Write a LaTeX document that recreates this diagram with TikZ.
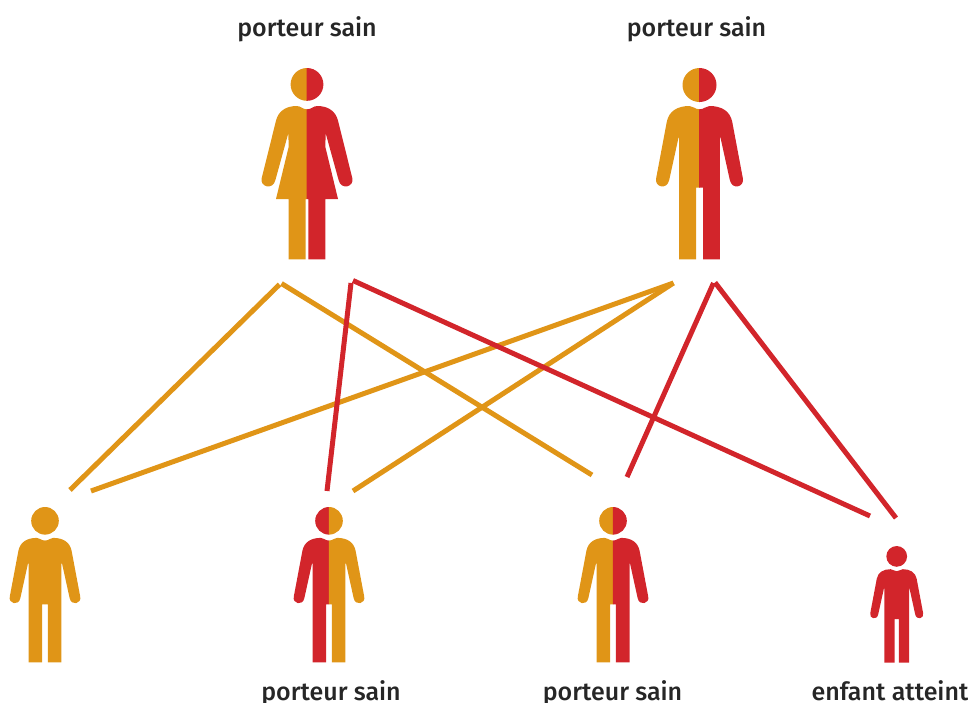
\documentclass[tikz,border=0pt]{standalone}
\usepackage{fontspec}
\setmainfont{Fira Sans Medium}
\definecolor{ocre}{HTML}{E09517}
\definecolor{rouge}{HTML}{D2252B}
\tikzset{
  lien/.style={line width=5pt},
  lienO/.style={lien,draw=ocre},
  lienR/.style={lien,draw=rouge},
  etiquette/.style={font=\fontsize{25}{28}\selectfont,text=black!85,inner sep=0pt,anchor=base},
}
% half figures, drawn to the left of the axis; origin = centre at head top, height 192
\newcommand{\demiHomme}[1]{%
  \fill[#1] (0.3,34) -- (0,34) arc[start angle=90,end angle=270,radius=17] -- (0.3,0) -- cycle;
  \fill[#1] (0.3,41.3) -- (0,41.3) .. controls (-5,41.3) and (-6,38) .. (-10,38)
    .. controls (-22,38) and (-30.5,43) .. (-32.7,53.7)
    -- (-43.3,110) .. controls (-45.5,119) and (-32.5,122.5) .. (-30.3,112)
    -- (-21,69.7) -- (-20.3,69.7) -- (-20.3,191.3) -- (-3.5,191.3) -- (-3.5,119.7) -- (0.3,119.7) -- cycle;}
\newcommand{\demiFemme}[1]{%
  \fill[#1] (0.3,32.8) -- (0,32.8) arc[start angle=90,end angle=270,radius=16.4] -- (0.3,0) -- cycle;
  \fill[#1] (0.3,41.3) -- (0,41.3) .. controls (-5,41.3) and (-6,38) .. (-10.3,38)
    .. controls (-22,38) and (-29,44) .. (-31,52.7)
    -- (-45.3,110) .. controls (-47.5,119) and (-34,122.5) .. (-31.6,112)
    -- (-18.7,65.3) -- (-18.3,78.7) -- (-31,131) -- (-18.3,131) -- (-18.3,191.3) -- (-1.3,191.3) -- (-1.3,131) -- (0.3,131) -- cycle;}
% #1 x, #2 top y, #3 scale, #4 left colour, #5 right colour, #6 macro
\newcommand{\personne}[6]{%
  \begin{scope}[shift={(#1,#2)},scale=#3]
    #6{#4}
    \begin{scope}[xscale=-1]#6{#5}\end{scope}
  \end{scope}}
\begin{document}
\begin{tikzpicture}[x=1pt,y=-1pt]
\useasboundingbox (0,0) rectangle (968,702);
\personne{307}{68}{1}{ocre}{rouge}{\demiFemme}
\personne{699.5}{68}{1}{ocre}{rouge}{\demiHomme}
\personne{45}{507}{0.8125}{ocre}{ocre}{\demiHomme}
\personne{329}{507}{0.8125}{rouge}{ocre}{\demiHomme}
\personne{613}{507}{0.8125}{ocre}{rouge}{\demiHomme}
\personne{896.7}{546}{0.61}{rouge}{rouge}{\demiHomme}
\node[etiquette] (t1) at (307,36) {porteur sain};
\node[etiquette] (t2) at (696.5,36) {porteur sain};
\node[etiquette] (t3) at (331,700) {porteur sain};
\node[etiquette] (t4) at (612.5,700) {porteur sain};
\node[etiquette] (t5) at (890,700) {enfant atteint};
\coordinate (mO1) at (279.5,284.5);
\coordinate (mO2) at (281.5,283.5);
\coordinate (mR1) at (351,283);
\coordinate (mR2) at (353,280.5);
\coordinate (pO) at (673.5,283);
\coordinate (pR1) at (713.5,283);
\coordinate (pR2) at (715,282.5);
\coordinate (a1) at (70,490);
\coordinate (a2) at (91,491);
\coordinate (b1) at (327,491);
\coordinate (b2) at (353,491);
\coordinate (c1) at (592,475);
\coordinate (c2) at (627,477);
\coordinate (d1) at (870,516);
\coordinate (d2) at (896,518);
\draw[lienO] (mO1) -- (a1);
\draw[lienO] (mO2) -- (c1);
\draw[lienO] (pO) -- (a2);
\draw[lienO] (pO) -- (b2);
\draw[lienR] (mR1) -- (b1);
\draw[lienR] (mR2) -- (d1);
\draw[lienR] (pR1) -- (c2);
\draw[lienR] (pR2) -- (d2);
\end{tikzpicture}
\end{document}
